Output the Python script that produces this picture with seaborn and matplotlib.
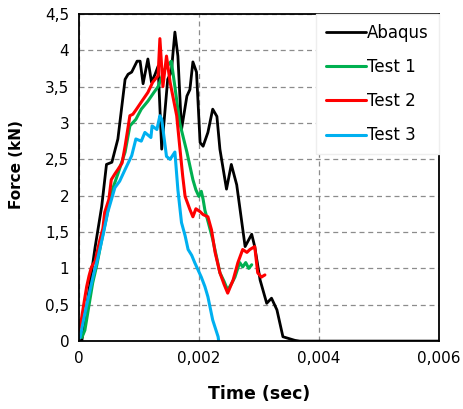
import matplotlib
matplotlib.use("Agg")
import matplotlib.pyplot as plt
import seaborn as sns
import pandas as pd
from matplotlib.ticker import FixedLocator, FuncFormatter

# time in ms (converted to s below), force in kN
abaqus_t = [0, 0.05, 0.27, 0.38, 0.46, 0.55, 0.65, 0.77, 0.82, 0.88, 0.97, 1.02, 1.07, 1.15, 1.21,
            1.27, 1.32, 1.38, 1.48, 1.54, 1.6, 1.65, 1.71, 1.8, 1.85, 1.9, 1.96, 2.02, 2.07, 2.15,
            2.23, 2.3, 2.35, 2.46, 2.54, 2.63, 2.77, 2.88, 2.93, 3.02, 3.13, 3.21, 3.3, 3.4, 3.6, 3.68, 6.0]
abaqus_f = [0, 0.01, 1.29, 1.85, 2.43, 2.46, 2.78, 3.6, 3.67, 3.7, 3.85, 3.85, 3.54, 3.88, 3.56,
            3.67, 3.78, 2.64, 3.6, 3.7, 4.25, 3.92, 2.91, 3.37, 3.46, 3.84, 3.7, 2.73, 2.68, 2.87,
            3.19, 3.09, 2.64, 2.09, 2.43, 2.15, 1.3, 1.47, 1.3, 0.84, 0.52, 0.59, 0.43, 0.06, 0.01, 0, 0]

test1_t = [0.05, 0.1, 0.16, 0.23, 0.3, 0.38, 0.46, 0.54, 0.65, 0.77, 0.85, 0.95, 1.04, 1.15, 1.25, 1.32,
           1.43, 1.54, 1.6, 1.68, 1.8, 1.9, 1.95, 2.0, 2.04, 2.07, 2.1, 2.16, 2.23, 2.35, 2.42, 2.48,
           2.55, 2.6, 2.68, 2.73, 2.78, 2.83, 2.88]
test1_f = [0.05, 0.15, 0.45, 0.8, 1.05, 1.39, 1.7, 2.04, 2.3, 2.6, 2.96, 3.05, 3.19, 3.3, 3.42, 3.5,
           3.74, 3.85, 3.5, 3.0, 2.6, 2.22, 2.08, 1.99, 2.06, 1.95, 1.8, 1.62, 1.4, 0.94, 0.82, 0.70,
           0.8, 0.88, 1.08, 1.02, 1.08, 1.0, 1.05]

test2_t = [0, 0.04, 0.09, 0.13, 0.17, 0.21, 0.27, 0.35, 0.4, 0.43, 0.5, 0.54, 0.6, 0.65, 0.72, 0.77,
           0.85, 0.9, 0.96, 1.05, 1.15, 1.23, 1.32, 1.35, 1.4, 1.46, 1.52, 1.63, 1.68, 1.73, 1.77,
           1.85, 1.9, 1.95, 2.02, 2.07, 2.15, 2.21, 2.27, 2.35, 2.42, 2.48, 2.57, 2.65, 2.73, 2.8,
           2.85, 2.93, 2.98, 3.04, 3.1]
test2_f = [0.15, 0.29, 0.55, 0.75, 0.9, 1.02, 1.1, 1.39, 1.55, 1.77, 1.95, 2.22, 2.3, 2.36, 2.45, 2.68,
           3.1, 3.12, 3.19, 3.3, 3.42, 3.56, 3.65, 4.16, 3.5, 3.92, 3.56, 3.1, 2.68, 2.27, 1.99,
           1.81, 1.71, 1.82, 1.78, 1.74, 1.71, 1.53, 1.22, 0.94, 0.78, 0.66, 0.84, 1.08, 1.26, 1.22,
           1.26, 1.3, 0.94, 0.88, 0.91]

test3_t = [0.02, 0.08, 0.15, 0.24, 0.32, 0.4, 0.48, 0.6, 0.68, 0.77, 0.88, 0.95, 1.04, 1.1, 1.2, 1.22,
           1.3, 1.35, 1.38, 1.46, 1.52, 1.6, 1.65, 1.71, 1.77, 1.82, 1.88, 1.93, 2.04, 2.1, 2.15, 2.23,
           2.32, 2.33]
test3_f = [0.05, 0.3, 0.57, 0.9, 1.16, 1.45, 1.77, 2.11, 2.2, 2.36, 2.55, 2.78, 2.75, 2.87, 2.8, 2.96,
           2.91, 3.1, 3.05, 2.54, 2.5, 2.6, 2.08, 1.63, 1.45, 1.26, 1.18, 1.08, 0.88, 0.75, 0.61, 0.29,
           0.06, 0.0]

series = [("Abaqus", abaqus_t, abaqus_f, "#000000", 2.0),
          ("Test 1", test1_t, test1_f, "#00B050", 2.2),
          ("Test 2", test2_t, test2_f, "#FF0000", 2.2),
          ("Test 3", test3_t, test3_f, "#00B0F0", 2.2)]

x_ticks = [0, 0.002, 0.004, 0.006]
y_ticks = [0, 0.5, 1, 1.5, 2, 2.5, 3, 3.5, 4, 4.5]

sns.set_style("white")
plt.rcParams['font.family'] = ['DejaVu Sans']
plt.rcParams['text.color'] = 'black'
plt.rcParams['axes.labelcolor'] = 'black'

fig = plt.figure(figsize=(4.64, 4.09), dpi=100)
ax = fig.add_axes([0.170, 0.166, 0.776, 0.800])

for name, t, f, c, lw in series:
    df = pd.DataFrame({"Time": [v / 1000 for v in t], "Force": f})
    sns.lineplot(data=df, x="Time", y="Force", ax=ax, color=c, linewidth=lw,
                 sort=False, estimator=None, label=name)

ax.set_xlim(0, 0.006)
ax.set_ylim(0, 4.5)
ax.xaxis.set_major_locator(FixedLocator(x_ticks))
ax.yaxis.set_major_locator(FixedLocator(y_ticks))

def fmt(v, pos):
    s = ("%.3f" % v).rstrip("0").rstrip(".")
    return s.replace(".", ",")

ax.xaxis.set_major_formatter(FuncFormatter(fmt))
ax.yaxis.set_major_formatter(FuncFormatter(fmt))
ax.tick_params(axis="both", length=0, labelsize=11, pad=7, colors="black")

ax.grid(True, linestyle=(0, (4, 3)), color="#8c8c8c", linewidth=0.9)
for s in ax.spines.values():
    s.set_color("black")
    s.set_linewidth(1.3)

ax.set_xlabel("Time (sec)", fontsize=12.5, fontweight="bold", labelpad=14, color="black")
ax.set_ylabel("Force (kN)", fontsize=11, fontweight="bold", color="black")
ax.yaxis.set_label_coords(-0.152, 0.54)

leg = ax.legend(loc="upper right", bbox_to_anchor=(1.0, 1.0), frameon=True, fontsize=12,
                handlelength=2.45, handletextpad=0.05, labelspacing=0.97, borderpad=0.6,
                fancybox=False, borderaxespad=0.0)
for txt in leg.get_texts():
    txt.set_color("black")
leg.get_frame().set_edgecolor("#eeeeee")
leg.get_frame().set_facecolor("white")
leg.get_frame().set_alpha(1)

fig.savefig("out.png", dpi=100)
